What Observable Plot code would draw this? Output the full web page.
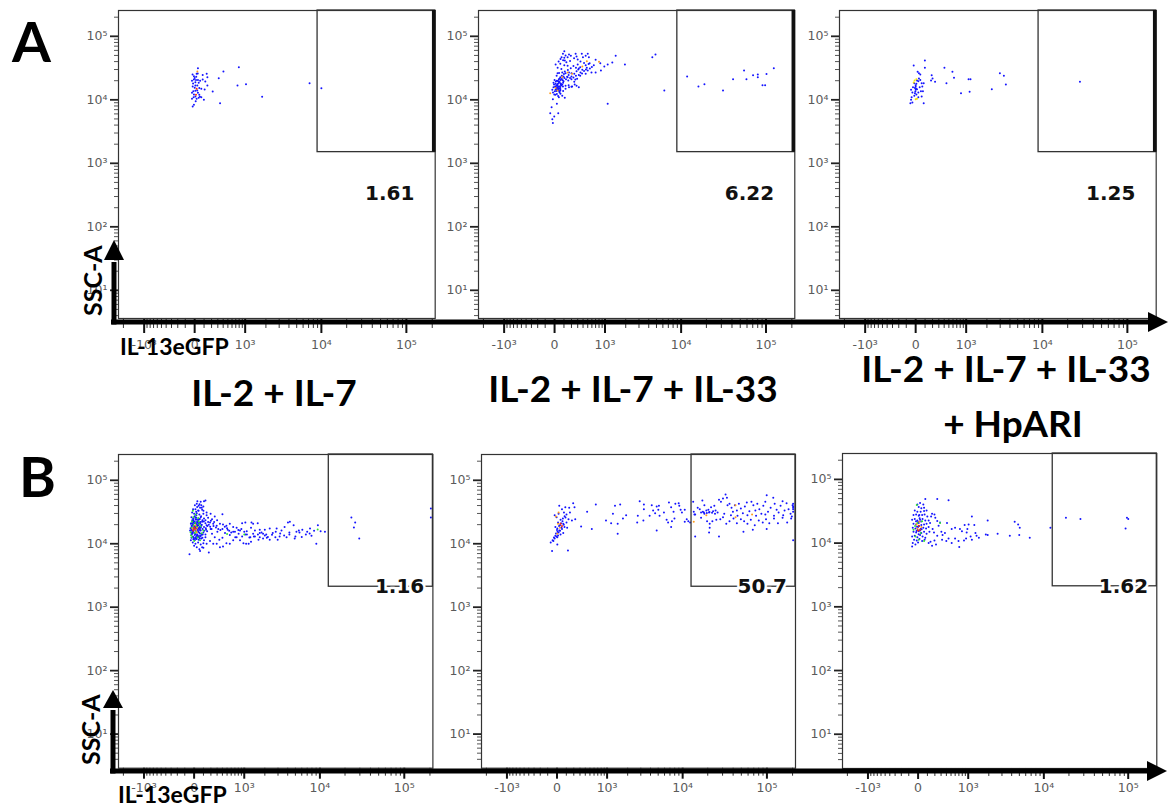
<!DOCTYPE html>
<html><head><meta charset="utf-8">
<script src="https://cdn.jsdelivr.net/npm/d3@7"></script>
<script src="https://cdn.jsdelivr.net/npm/@observablehq/plot@0.6"></script>
<style>
body{margin:0;background:#fff;}
#root{position:relative;width:1172px;height:808px;overflow:hidden;background:#fff;}
</style></head><body><div id="root"></div>
<script>
// ---------- DATA ----------
const rowLetters = ["A", "B"];
const conditionTitles = [["IL-2 + IL-7"], ["IL-2 + IL-7 + IL-33"], ["IL-2 + IL-7 + IL-33", "+ HpARI"]];
const gateValuesA = ["1.61", "6.22", "1.25"];
const gateValuesB = ["1.16", "50.7", "1.62"];
const xAxisLabel = "IL-13eGFP";
const yAxisLabel = "SSC-A";
const xTickValues = [-1000, 0, 1000, 10000, 100000];
const xMinorTicks = [-2000,-900,-800,-700,-600,-500,-400,-300,-200,-100,100,200,300,400,500,600,700,800,900,2000,3000,4000,5000,6000,7000,8000,9000,20000,30000,40000,50000,60000,70000,80000,90000,200000];
const yTickValues = [10, 100, 1000, 10000, 100000];
const yMinorTicks = [4,5,6,7,8,9,20,30,40,50,60,70,80,90,200,300,400,500,600,700,800,900,2000,3000,4000,5000,6000,7000,8000,9000,20000,30000,40000,50000,60000,70000,80000,90000,200000];
const dotColors = ["#1414ff", "#2ee82e", "#f0e000", "#ff9a1a", "#ff2a00"]; // 0 blue,1 green,2 yellow,3 orange,4 red

// events: [IL-13eGFP, SSC-A, density level]
const eventsA1 = [[32,31500,0],[26,27900,3],[19,25700,0],[-7,23500,0],[-7,20900,0],[-26,20000,0],[13,20600,0],[32,20600,0],[7,18900,0],[-19,16200,0],[7,16800,0],[26,16800,0],[19,14900,4],[46,15400,0],[68,14900,0],[-13,13700,0],[7,13900,0],[32,12900,0],[-7,12100,0],[-26,12900,0],[13,12000,4],[46,12000,0],[53,11150,0],[7,11300,0],[-26,10400,0],[19,10400,0],[68,11000,0],[98,10000,0],[-7,8350,0],[-19,7840,0],[84,24700,0],[133,25700,0],[142,22700,0],[84,20900,0],[115,19400,0],[142,16800,0],[107,14500,0],[217,13500,0],[405,27900,0],[316,21900,0],[790,32600,0],[750,16800,0],[1030,17600,0],[340,8800,0],[1775,11150,0],[7200,18300,0],[10000,15200,0],[0,22000,0],[15,23000,0],[-15,18000,0],[40,18500,0],[0,15500,0],[25,14000,0],[-10,11000,0],[40,10800,0],[10,9500,0],[55,20000,0],[-20,25000,0],[30,26000,0]];

const eventsA2 = [[104,58200,0],[88,53000,0],[120,49700,0],[165,51800,0],[72,46900,0],[104,45800,0],[146,46900,0],[191,49300,0],[265,53000,0],[280,48000,0],[375,53000,0],[398,46900,0],[455,49300,0],[500,53000,0],[527,46900,0],[700,42600,0],[840,37700,0],[975,33400,0],[1100,36000,0],[1290,38700,0],[1445,49300,0],[1950,36000,0],[4440,46900,0],[4860,51800,0],[58,36900,0],[10,36000,0],[104,35100,0],[146,34300,0],[110,41600,0],[300,36000,0],[345,32600,0],[455,35100,0],[544,37700,0],[480,31900,0],[385,29700,0],[320,31100,0],[280,28200,0],[243,25700,0],[200,26200,0],[165,26900,0],[120,26200,0],[80,26900,0],[29,26200,0],[58,22700,0],[95,23300,0],[146,22700,0],[200,23300,0],[270,23900,0],[345,23900,0],[455,25700,0],[590,26900,0],[700,26900,0],[860,28900,0],[43,19600,0],[10,17900,0],[29,17000,0],[64,17900,0],[88,16200,0],[120,16600,0],[165,15800,0],[210,16200,0],[280,16600,0],[320,15800,0],[243,19200,0],[155,20100,0],[-10,15800,0],[-22,14400,0],[3,13700,0],[22,12400,0],[50,13000,0],[80,11560,0],[110,10750,0],[43,11000,0],[-3,12100,0],[29,14700,0],[58,15400,0],[10,16200,0],[-16,10200,0],[22,8650,0],[-29,7650,0],[-43,6150,0],[-3,5450,0],[-22,4950,0],[36,6150,0],[-16,4300,0],[1100,8650,0],[6250,14000,0],[22,16600,0],[43,16000,0],[36,14000,0],[58,14600,0],[16,15300,0],
[15,15000,0],[25,15500,0],[35,16000,0],[45,15200,0],[55,16400,0],[65,17200,0],[20,17000,0],[30,17800,0],[40,18400,0],[50,19000,0],[60,18000,0],[70,16800,0],[80,17500,0],[90,18500,0],[10,14500,0],[5,16000,0],[18,13800,0],[28,14300,0],[38,14800,0],[48,13600,0],[58,14000,0],[12,19500,0],[22,20000,0],[32,19800,0],[42,21000,0],[52,21600,0],[62,20500,0],[75,21200,0],[85,20300,0],[95,19600,0],[105,22000,0],[125,21000,0],[140,23000,0],[160,24500,0],[180,22000,0],[200,21000,0],[230,22500,0],[260,20800,0],[290,21500,0],[320,24500,0],[350,27000,0],[380,26000,0],[420,28500,0],[460,30000,0],[500,29000,0],[550,31000,0],[600,33000,0],[650,35000,0],[520,36500,0],[420,38000,0],[350,40000,0],[300,43000,0],[240,45000,0],[180,41000,0],[130,39000,0],[90,42000,0],[60,44000,0],[40,40000,0],[30,32000,0],[70,30500,0],[110,28000,0],[150,29500,0],[190,31500,0],[230,34000,0],[270,32000,0],[310,30000,0],[20,24000,0],[45,26500,0],[75,24000,0],[100,25500,0],[0,20500,0],[-10,18500,0],[-5,17500,0],[8,12000,0],[-15,13000,0],[35,11500,0],[60,12500,0],[90,13800,0],[120,15000,0],[160,17000,0],[200,16000,0],[250,17500,0],
[-43,12700,3],[146,26900,3],[210,25700,3],[480,40500,3],[800,39600,3],[385,33400,3],[10,15400,3],[29,14000,3],[80,22700,3],
[11800,23300,0],[16100,16200,0],[18950,17600,0],[31400,14000,0],[41200,21100,0],[55400,28900,0],[59100,21100,0],[70600,24400,0],[80200,25000,0],[80200,22700,0],[101300,25400,0],[90950,17000,0],[97600,17000,0],[123300,31500,0]];

const eventsA3 = [[98,41700,0],[-19,34600,0],[98,31900,0],[19,27600,0],[32,26200,0],[46,25000,0],[405,31900,0],[585,27600,0],[625,22200,0],[187,24400,0],[200,21700,0],[178,20100,0],[238,19200,0],[1090,21100,0],[1165,21100,0],[447,18300,0],[2975,26200,0],[3350,23900,0],[3550,17400,0],[2330,14700,0],[1130,13400,0],[826,12700,0],[27900,19200,0],[-13,18300,0],[7,17900,0],[0,17000,0],[26,19600,0],[46,20600,0],[61,18300,0],[84,18300,0],[-26,15800,0],[-7,15400,0],[13,14700,0],[40,15800,0],[68,16200,0],[-46,14400,0],[-32,13000,0],[-7,12700,0],[7,12100,0],[26,13000,0],[53,13700,0],[75,13700,0],[-40,11000,0],[-13,11560,0],[26,11000,0],[-46,10000,0],[-32,9070,0],[-53,8840,0],[84,8840,0],[61,11300,0],[32,21700,0],[13,20100,0],[0,14400,0],[0,16000,0],[3,15000,0],[-3,13500,0],
[-19,18700,2],[7,21100,2],[0,10200,2],[-10,20100,2],[13,10400,2]];

const eventsB1 = [[32,46900,0],[68,45800,0],[107,46900,0],[125,48000,0],[7,40500,0],[26,42600,0],[46,39600,0],[75,40500,0],[99,38700,0],[61,36900,0],[13,35100,0],[40,33400,0],[84,34300,0],[-19,31100,0],[0,29700,0],[26,30300,0],[53,29000,0],[99,29700,0],[140,28200,0],[196,29700,0],[-26,26200,0],[-7,25000,0],[19,25700,0],[46,24400,0],[68,26200,0],[107,25000,0],[160,25700,0],[-13,22200,0],[7,21100,0],[32,21700,0],[61,20600,0],[84,22200,0],[125,21100,0],[-19,19200,0],[0,18300,0],[26,18700,0],[53,17900,0],[75,19200,0],[107,18300,0],[140,19600,0],[-26,16600,0],[-7,15800,0],[13,16200,0],[40,15400,0],[68,16200,0],[99,15100,0],[133,16600,0],[-19,14400,0],[7,13700,0],[32,14000,0],[61,13400,0],[91,14000,0],[125,12700,0],[-26,12400,0],[-7,11800,0],[19,12100,0],[46,11560,0],[75,12100,0],[107,11300,0],[-13,10500,0],[13,10000,0],[40,10500,0],[68,9750,0],[99,10200,0],[0,9300,0],[26,8840,0],[53,8220,0],[84,8840,0],[-32,11300,0],[-40,16200,0],[-32,20600,0],
[-10,20000,0],[5,19000,0],[20,17500,0],[35,16500,0],[-15,15000,0],[0,14800,0],[15,14200,0],[30,13200,0],[45,13000,0],[-5,12600,0],[10,12300,0],[25,11900,0],[-20,17500,0],[40,19500,0],[55,18500,0],[-25,14000,0],[50,15000,0],[60,14500,0],[-8,23000,0],[15,24000,0],[30,22500,0],[45,21000,0],[5,27000,0],[22,28000,0],
[-30,15000,0],[-20,16000,0],[-10,17000,0],[0,17500,0],[10,18000,0],[20,18500,0],[30,19000,0],[40,17500,0],[50,16500,0],[60,17000,0],[70,18000,0],[-25,19000,0],[-15,20500,0],[-5,21500,0],[5,22500,0],[15,21500,0],[25,20500,0],[35,19500,0],[45,20000,0],[55,21000,0],[65,22000,0],[80,20000,0],[-35,17500,0],[-28,21000,0],[90,17000,0],[110,16000,0],[130,17500,0],[150,19000,0],[170,20000,0],[190,18500,0],[210,17000,0],[240,19000,0],[280,18000,0],[320,17000,0],[360,16500,0],[400,17000,0],[450,18500,0],[500,17500,0],[550,16000,0],[600,15000,0],[700,15500,0],[800,16500,0],[900,17000,0],[1000,15500,0],[1100,14000,0],[1200,12500,0],[1400,13000,0],[1600,14000,0],[1800,15000,0],[2000,13500,0],[2200,12800,0],[2500,13800,0],[2800,15500,0],[3200,14500,0],[3600,13500,0],[4200,15000,0],[5000,13000,0],[6000,12800,0],[7500,14500,0],[8500,16000,0],[-12,13000,0],[-2,12000,0],[8,11500,0],[18,12800,0],[28,13500,0],[38,13200,0],[48,12600,0],[58,12200,0],[68,13300,0],[78,13800,0],[88,12400,0],[-18,23500,0],[-8,24500,0],[12,26000,0],[28,24000,0],[42,23000,0],[58,24500,0],[72,27000,0],[88,23500,0],[105,22500,0],[125,23500,0],[160,22000,0],[200,23000,0],[250,22000,0],[300,23500,0],[20,32000,0],[45,33000,0],[-10,35000,0],[30,38000,0],[55,42000,0],[80,37000,0],[100,33000,0],[140,31000,0],
[400,29200,0],[260,26900,0],[217,24400,0],[187,21700,0],[236,20600,0],[293,19200,0],[352,20600,0],[412,20100,0],[485,19200,0],[565,20600,0],[652,18300,0],[750,17900,0],[855,16200,0],[925,21100,0],[1040,21700,0],[1290,21700,0],[1365,20600,0],[1590,21100,0],[1270,17900,0],[1450,16200,0],[1700,16600,0],[2000,16600,0],[2330,17400,0],[2880,17400,0],[3330,16200,0],[4030,21700,0],[4260,22200,0],[4750,19600,0],[3650,18300,0],[5520,16200,0],[6100,16600,0],[7000,15400,0],[7580,17400,0],[9450,19600,0],[10200,15800,0],[11500,15400,0],[1040,14000,0],[1240,12700,0],[1450,13000,0],[1700,12700,0],[1890,12100,0],[2130,12400,0],[2330,11560,0],[2770,12700,0],[3150,13000,0],[3870,12700,0],[4900,12100,0],[5620,15100,0],[6740,14000,0],[7900,13400,0],[9050,10000,0],[855,11300,0],[970,10200,0],[1070,10000,0],[1170,10000,0],[1270,10750,0],[652,11300,0],[565,10000,0],[485,10200,0],[412,9070,0],[352,8840,0],[293,10000,0],[236,10000,0],[187,11000,0],[140,10000,0],[99,8650,0],[61,7650,0],[170,7300,0],[-46,6800,0],[400,12400,0],[340,11560,0],[260,12700,0],[217,14400,0],[147,15800,0],[125,14000,0],[196,17000,0],[305,15400,0],[454,14700,0],[565,13700,0],[710,12700,0],[810,14400,0],[1890,14400,0],[2560,14700,0],[1700,14700,0],[4200,14000,0],[5150,15400,0],[750,12700,0],[515,16600,0],[652,15400,0],[925,13000,0],[1095,15800,0],[1365,14400,0],[1630,11560,0],[2090,14000,0],[2970,11560,0],
[23800,25900,0],[25500,18100,0],[29500,12100,0],[26400,21700,0],[205000,35900,0],[205000,25900,0],
[-7,26200,1],[46,22700,1],[7,14700,1],[61,11300,1],[-19,12700,1],[99,16200,1],[26,18300,1],[-5,19500,1],[20,15500,1],[35,12500,1],[-25,17800,1],[-30,13500,1],[52,20200,1],[80,14600,1],[15,29000,1],[-12,33000,1],[0,11000,1],[1000,14000,1],[9400,16800,1],[500,14200,1],[-20,22500,1],[40,25500,1],[65,18800,1],[-35,15200,1],[10,21200,1],
[7,17000,4],[19,16600,3],[-7,16200,4],[13,19600,3],[30,17800,3],[2,18000,4],[-15,17300,3],[25,15200,3]];

const eventsB2 = [[22,39600,0],[50,35100,0],[88,37700,0],[136,36900,0],[191,43600,0],[211,37700,0],[72,31100,0],[102,29000,0],[146,31100,0],[15,29700,0],[-4,26200,0],[-23,28200,0],[35,23900,0],[56,22700,0],[10,21700,0],[29,19600,0],[64,20600,0],[102,21700,0],[127,24400,0],[173,23300,0],[-16,18300,0],[3,17400,0],[22,16200,0],[50,17000,0],[78,18300,0],[110,17900,0],[15,15100,0],[35,14000,0],[64,14700,0],[3,12700,0],[-23,12100,0],[-44,11300,0],[-65,10500,0],[-36,11000,0],[-16,13400,0],[3,9750,0],[-50,7650,0],[120,7840,0],[222,24400,0],[320,18700,0],[544,17000,0],[438,31900,0],[646,41600,0],[-5,13000,0],[-10,14500,0],[5,15500,0],[20,19000,0],[40,21000,0],[60,25000,0],[80,27000,0],[0,16500,0],[10,13500,0],[30,16000,0],[-30,12500,0],[45,18000,0],[70,20000,0],[90,26000,0],
[1320,39600,0],[1570,41600,0],[1230,29700,0],[1905,28200,0],[1155,21100,0],[1445,20600,0],[960,23300,0],[1720,25000,0],[1445,14400,0],[2900,46900,0],[3290,41600,0],[3290,35100,0],[2740,27600,0],[3240,23300,0],[2690,21700,0],[4150,40500,0],[4790,38700,0],[5110,39600,0],[4320,33400,0],[4580,30300,0],[5020,34300,0],[5200,27600,0],[3900,27600,0],[5900,31100,0],[6800,44700,0],[7230,37700,0],[8150,42600,0],[8950,43600,0],[9450,34300,0],[9800,31100,0],[7750,31900,0],[6370,23900,0],[6640,21700,0],[7400,22700,0],[7950,25000,0],[7230,18300,0],[4790,16200,0],[10600,34300,0],[11200,24400,0],[11700,22700,0],[12300,21700,0],[10600,22200,0],[9100,39600,0],
[13400,45800,0],[13600,31900,0],[14150,29000,0],[15180,36900,0],[16050,35100,0],[17250,48000,0],[18250,40500,0],[19250,33400,0],[20750,31100,0],[21900,37700,0],[23150,32600,0],[23950,39600,0],[24800,33400,0],[26200,31100,0],[27200,49300,0],[28700,45800,0],[30350,51800,0],[32550,59800,0],[33800,53000,0],[34350,40500,0],[36250,42600,0],[38300,36900,0],[39800,31900,0],[41970,40500,0],[44300,33400,0],[46750,42600,0],[49350,36000,0],[52100,30300,0],[55000,38700,0],[58000,44700,0],[62200,32600,0],[65700,45800,0],[69300,40500,0],[73150,33400,0],[77100,42600,0],[81450,35100,0],[86000,29700,0],[90700,39600,0],[95800,45800,0],[99400,58300,0],[103000,31900,0],[110600,36900,0],[118700,53000,0],[123300,42600,0],[130000,34300,0],[137200,31100,0],[144700,39600,0],[152700,46900,0],[161100,33400,0],[170100,43600,0],[179500,35100,0],[189300,29700,0],[199800,40500,0],[203000,36900,0],
[16650,25700,0],[19640,22700,0],[21100,20600,0],[22700,22700,0],[25300,23900,0],[28200,24400,0],[30350,26200,0],[33200,20600,0],[36250,22700,0],[40400,25000,0],[44300,21100,0],[49350,24400,0],[53900,22700,0],[59000,20600,0],[64650,23900,0],[71970,19600,0],[80200,23300,0],[89300,21700,0],[97600,24400,0],[106600,21100,0],[121000,25000,0],[134600,21100,0],[152700,25700,0],[172800,21700,0],[192400,25000,0],[21100,17900,0],[20750,15100,0],[27200,13000,0],[52950,15400,0],[68200,16600,0],[99400,17000,0],[14150,13000,0],[13860,29000,0],[16650,31100,0],[18250,29700,0],[20350,34300,0],[24400,29700,0],[31400,29700,0],[37700,28200,0],[45050,27600,0],[59000,28200,0],[74550,27600,0],[95800,29000,0],[121000,27600,0],[155200,28200,0],[196000,26900,0],[203000,42600,0],[203000,38700,0],[203000,35100,0],[203000,31900,0],[203000,11300,0],[18000,31000,0],[19500,30500,0],[21000,31500,0],[22500,30800,0],[17500,32000,0],
[-10,26900,3],[15,31100,3],[3,14400,3],[29,17900,3],[10,20600,3],[35,20600,4],[50,19000,4],[19250,28200,3],[42650,26200,3],[66900,29000,3],[13600,22200,3],[42650,40500,3]];

const eventsB3 = [[236,49300,0],[445,46900,0],[75,49300,0],[1140,26200,0],[1930,22700,0],[4370,21700,0],[4830,19600,0],[5060,17400,0],[12000,17400,0],[6730,12100,0],[3790,13000,0],[4990,13400,0],[2630,14000,0],[1930,13400,0],[1820,13700,0],[1450,12100,0],[1290,14400,0],[1240,19200,0],[1015,19600,0],[875,19200,0],[970,16600,0],[945,14700,0],[790,15400,0],[730,16600,0],[598,17400,0],[515,16600,0],[412,20600,0],[371,14400,0],[327,13400,0],[305,15100,0],[258,18700,0],[282,21100,0],[194,28200,0],[160,29000,0],[147,26200,0],[207,25000,0],[236,22200,0],[168,16600,0],[187,14700,0],[236,13000,0],[318,11300,0],[445,11800,0],[598,11800,0],[690,10750,0],[855,11000,0],[925,11800,0],[1090,12700,0],[1140,11300,0],[1340,13000,0],[398,10750,0],[515,10000,0],[710,8650,0],[139,10500,0],[194,11000,0],[115,10000,0],[160,9070,0],[217,9500,0],
[18400,25000,0],[27400,23900,0],[96700,25000,0],[100200,23900,0],[93200,17000,0],
[-7,40500,0],[19,42600,0],[53,40500,0],[6,36900,0],[32,35100,0],[61,36000,0],[-33,32600,0],[-7,31100,0],[25,31100,0],[61,31900,0],[90,32600,0],[-46,27600,0],[-19,28200,0],[6,26900,0],[40,27600,0],[67,28200,0],[99,26200,0],[-61,23300,0],[-33,23900,0],[-7,22700,0],[19,23300,0],[45,23900,0],[75,22700,0],[115,22700,0],[-46,20100,0],[-19,19600,0],[6,20600,0],[32,19200,0],[61,19600,0],[90,20100,0],[133,20600,0],[-54,17400,0],[-26,17000,0],[0,17900,0],[25,16600,0],[53,17400,0],[84,17000,0],[115,17900,0],[-46,15100,0],[-19,14700,0],[6,15400,0],[32,14400,0],[61,15100,0],[90,14000,0],[125,15100,0],[-61,12700,0],[-33,13000,0],[-7,12400,0],[19,13400,0],[45,12700,0],[75,12100,0],[-40,11300,0],[-13,11000,0],[13,11560,0],[40,10750,0],[67,11300,0],[-54,10000,0],[-26,9500,0],[0,10200,0],[-61,8840,0],[0,21500,0],[10,18500,0],[-10,18000,0],[20,15800,0],[-15,15500,0],[30,21800,0],[15,24500,0],[-5,16000,0],[5,13800,0],[-20,22000,0],[35,16500,0],[12,27500,0],
[-13,39600,1],[282,20600,1],[-7,20600,1],[61,10750,1],[-26,12700,1],[25,14400,1],[-46,16200,1],[6,11300,1],[-30,18500,1],[40,22000,1],
[-7,17000,3],[6,18700,4],[19,16200,4],[32,17900,3],[13,21700,3],[-15,19800,3],[0,15800,4]];

// ---------- LAYOUT ----------
const xDomain = [-2330, 216400];
const rows = {
  A: {yDomain: [3.6, 255000], gateX: 9000, gateY: 1500, labelX: 64000, labelY: 335, halo: false, thick: true, major: 15, minor: 10, pad: 7},
  B: {yDomain: [2.9, 255000], gateX: 12800, gateY: 2100, labelX: 88000, labelY: 2100, halo: true, thick: false, major: 11, minor: 8, pad: 4}
};
const panels = [
  {row: "A", events: eventsA1, gate: gateValuesA[0], left: 118.3, top: 10, w: 316.7, h: 308},
  {row: "A", events: eventsA2, gate: gateValuesA[1], left: 477.7, top: 10, w: 316.3, h: 308},
  {row: "A", events: eventsA3, gate: gateValuesA[2], left: 839, top: 10, w: 316.7, h: 308},
  {row: "B", events: eventsB1, gate: gateValuesB[0], left: 118.3, top: 454, w: 314.4, h: 313.7},
  {row: "B", events: eventsB2, gate: gateValuesB[1], left: 481, top: 454, w: 314, h: 313.7},
  {row: "B", events: eventsB3, gate: gateValuesB[2], left: 841.7, top: 452.7, w: 314.3, h: 315}
];

const supDigits = {"0":"⁰","1":"¹","2":"²","3":"³","4":"⁴","5":"⁵","6":"⁶","7":"⁷","8":"⁸","9":"⁹"};
function powFmt(v) {
  if (v === 0) return "0";
  const e = Math.round(Math.log10(Math.abs(v)));
  return (v < 0 ? "-" : "") + "10" + String(e).split("").map(c => supDigits[c]).join("");
}

const root = document.getElementById("root");
const mL = 44, mR = 8, mT = 4, mB = 46;
const tickFont = "DejaVu Sans";

for (const p of panels) {
  const R = rows[p.row];
  const inY = v => v >= R.yDomain[0] && v <= R.yDomain[1];
  const pts = p.events.slice().sort((a, b) => a[2] - b[2]);
  const gateBox = [{x1: R.gateX, x2: xDomain[1], y1: R.gateY, y2: R.yDomain[1]}];
  const marks = [
    Plot.axisY(yMinorTicks.filter(inY), {anchor: "left", tickSize: 4, tickFormat: () => "", stroke: "#555", strokeWidth: 1, label: null}),
    Plot.axisY(yTickValues.filter(inY), {anchor: "left", tickSize: 8, tickPadding: 3, tickFormat: powFmt, fill: "#5a5a5a", stroke: "#222", strokeWidth: 1.8, fontSize: 12.5, fontFamily: tickFont, label: null}),
    Plot.axisX(xMinorTicks, {anchor: "bottom", tickSize: R.minor, tickFormat: () => "", stroke: "#333", strokeWidth: 1, label: null}),
    Plot.axisX(xTickValues, {anchor: "bottom", tickSize: R.major, tickPadding: R.pad, tickFormat: powFmt, fill: "#5a5a5a", stroke: "#111", strokeWidth: 2, fontSize: 12.5, fontFamily: tickFont, label: null}),
    Plot.dot(pts, {x: d => d[0], y: d => d[1], fill: d => d[2], r: 1}),
    Plot.rect(gateBox, {x1: "x1", x2: "x2", y1: "y1", y2: "y2", fill: "none", stroke: "#333", strokeWidth: 1.3}),
    Plot.frame({stroke: "#333", strokeWidth: 1.2})
  ];
  if (R.thick) marks.push(Plot.ruleX([xDomain[1]], {y1: R.gateY, y2: R.yDomain[1], stroke: "#111", strokeWidth: 3.5, dx: -1.5}));
  const lab = [{x: R.labelX, y: R.labelY, t: p.gate}];
  marks.push(Plot.text(lab, {x: "x", y: "y", text: "t", fontSize: 20, fontWeight: "bold", fontFamily: "DejaVu Sans", fill: "#111",
    stroke: R.halo ? "white" : null, strokeWidth: R.halo ? 5 : 0}));
  const chart = Plot.plot({
    width: p.w + mL + mR, height: p.h + mT + mB,
    marginLeft: mL, marginRight: mR, marginTop: mT, marginBottom: mB,
    style: {background: "transparent", overflow: "visible", fontSize: "12.5px", fontFamily: tickFont},
    x: {type: "symlog", constant: 350, domain: xDomain, axis: null},
    y: {type: "log", domain: R.yDomain, axis: null},
    color: {type: "ordinal", domain: [0, 1, 2, 3, 4], range: dotColors},
    marks
  });
  chart.style.position = "absolute";
  chart.style.left = (p.left - mL) + "px";
  chart.style.top = (p.top - mT) + "px";
  root.appendChild(chart);
}

// ---------- OVERLAY: arrows and labels ----------
const ov = d3.select(root).append("svg").attr("width", 1172).attr("height", 808)
  .style("position", "absolute").style("left", "0px").style("top", "0px");
function hArrow(y, x0, x1, tip) {
  ov.append("line").attr("x1", x0).attr("x2", x1).attr("y1", y).attr("y2", y).attr("stroke", "#000").attr("stroke-width", 5);
  ov.append("polygon").attr("points", `${x1},${y - 10} ${tip},${y} ${x1},${y + 10}`).attr("fill", "#000");
}
function vArrow(x, y0, y1, tip) {
  ov.append("line").attr("x1", x).attr("x2", x).attr("y1", y0).attr("y2", y1 + 2).attr("stroke", "#000").attr("stroke-width", 5);
  ov.append("polygon").attr("points", `${x - 10},${y1} ${x},${tip} ${x + 10},${y1}`).attr("fill", "#000");
}
hArrow(322, 111, 1148, 1168);
vArrow(114, 324.5, 260, 240);
hArrow(771, 110, 1147, 1167);
vArrow(113, 773.5, 708, 690);

const bold = "Lato, 'Open Sans', sans-serif";
function txt(x, y, s, size, anchor = "start", rot = 0) {
  const t = ov.append("text").attr("font-family", bold).attr("font-weight", 700).attr("font-size", size)
    .attr("fill", "#000").attr("text-anchor", anchor).text(s);
  if (rot) t.attr("transform", `translate(${x},${y}) rotate(${rot})`);
  else t.attr("x", x).attr("y", y);
}
txt(12, 62, rowLetters[0], 56);
txt(19, 497, rowLetters[1], 56);
txt(102, 316, yAxisLabel, 25, "start", -90);
txt(100, 765, yAxisLabel, 25, "start", -90);
txt(120, 355, xAxisLabel, 23);
txt(118, 803, xAxisLabel, 23);
txt(274, 406, conditionTitles[0][0], 37, "middle");
txt(633, 402, conditionTitles[1][0], 37, "middle");
txt(1006, 382, conditionTitles[2][0], 37, "middle");
txt(1013, 437, conditionTitles[2][1], 37, "middle");
</script>
</body></html>
